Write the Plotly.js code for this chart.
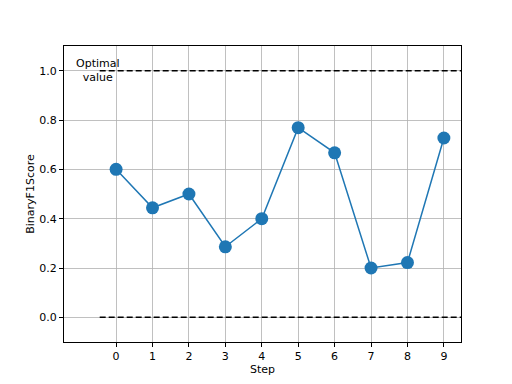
<!DOCTYPE html>
<html>
<head>
<meta charset="utf-8">
<script src="https://cdn.plot.ly/plotly-3.0.1.min.js"></script>
<style>html,body{margin:0;padding:0;background:#fff;}#chart{width:512px;height:384px;}</style>
</head>
<body>
<div id="chart"></div>
<script>
const steps = [0, 1, 2, 3, 4, 5, 6, 7, 8, 9];
const scores = [0.6, 0.444, 0.5, 0.286, 0.4, 0.769, 0.667, 0.2, 0.222, 0.727];
const refX = [-0.45, 9.6];
const optimalY = [1.0, 1.0];
const zeroY = [0.0, 0.0];
const tickVals = [0, 0.2, 0.4, 0.6, 0.8, 1.0];
const tickText = ['0.0', '0.2', '0.4', '0.6', '0.8', '1.0'];
const annoText = 'Optimal<br>value';

const font = {family: 'DejaVu Sans', size: 11, color: '#000'};
const traces = [
  {x: refX, y: optimalY, mode: 'lines', line: {color: '#000', width: 1.5, dash: '6px,3px'}, hoverinfo: 'skip'},
  {x: refX, y: zeroY, mode: 'lines', line: {color: '#000', width: 1.5, dash: '6px,3px'}, hoverinfo: 'skip'},
  {x: steps, y: scores, mode: 'lines+markers', line: {color: '#1f77b4', width: 1.5},
   marker: {color: '#1f77b4', size: 13}}
];
const layout = {
  width: 512, height: 384,
  margin: {l: 64, r: 51, t: 46, b: 42},
  paper_bgcolor: '#fff', plot_bgcolor: '#fff',
  showlegend: false,
  font: font,
  xaxis: {
    range: [-1.43, 9.47], tickvals: steps, ticktext: steps.map(String),
    showgrid: true, gridcolor: '#b0b0b0', gridwidth: 0.8, zeroline: false,
    showline: true, linecolor: '#000', linewidth: 1, mirror: true,
    ticks: 'outside', ticklen: 4, tickcolor: '#000', tickwidth: 1,
    tickfont: font,
    title: {text: 'Step', font: font, standoff: 2}
  },
  yaxis: {
    range: [-0.1, 1.1], tickvals: tickVals, ticktext: tickText,
    showgrid: true, gridcolor: '#b0b0b0', gridwidth: 0.8, zeroline: false,
    showline: true, linecolor: '#000', linewidth: 1, mirror: true,
    ticks: 'outside', ticklen: 4, tickcolor: '#000', tickwidth: 1,
    tickfont: font,
    title: {text: 'BinaryF1Score', font: font, standoff: 2}
  },
  annotations: [{
    x: -0.5, y: 1.0, xref: 'x', yref: 'y', text: annoText, showarrow: false,
    font: font, align: 'center', xanchor: 'center', yanchor: 'middle'
  }]
};
Plotly.newPlot('chart', traces, layout, {staticPlot: true, displayModeBar: false});
</script>
</body>
</html>
